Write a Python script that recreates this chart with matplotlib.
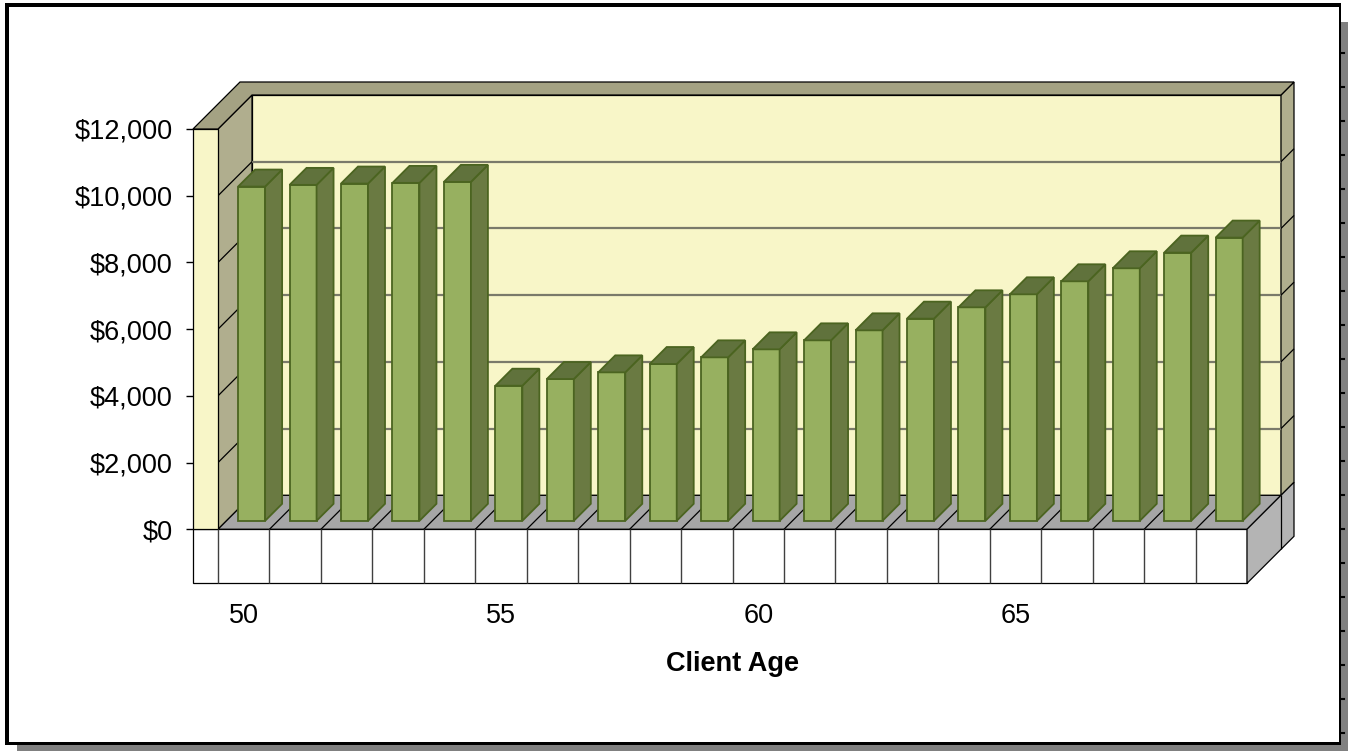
import numpy as np
import matplotlib.pyplot as plt
from matplotlib.patches import Polygon, Rectangle
from matplotlib.ticker import FuncFormatter

plt.rcParams['font.family'] = ['Liberation Sans', 'DejaVu Sans']

# data
ages = list(range(50, 70))
income = [10020, 10070, 10110, 10130, 10160, 4050, 4250, 4450, 4700, 4900,
          5140, 5410, 5710, 6060, 6400, 6790, 7180, 7570, 8040, 8490]
age_ticks = [50, 55, 60, 65]
y_ticks = [0, 2000, 4000, 6000, 8000, 10000, 12000]

W, H = 1348, 751
fig = plt.figure(figsize=(W / 100, H / 100), dpi=100)
fig.patch.set_facecolor('white')

# outer frame with drop shadow (pixel coords)
bg = fig.add_axes([0, 0, 1, 1], zorder=0)
bg.set_xlim(0, W)
bg.set_ylim(H, 0)
bg.axis('off')
for x, y, w, h, c in [(17, 745, W - 17, 6, '#808080'), (1341, 22, 7, H - 22, '#808080'),
                      (5, 3, 1335, 4, 'black'), (5, 3, 4, 742, 'black'),
                      (5, 741.5, 1335, 3.5, 'black'), (1338.5, 3, 2, 742, 'black')]:
    bg.add_patch(Rectangle((x, y), w, h, fc=c, ec='none'))
for y in np.arange(53, 740, 34):
    bg.plot([1341, 1344], [y, y], color='black', lw=1.5)

# front plane of the plot (pixel box)
L, R, B, T = 218, 1247, 529.3, 129
ax = fig.add_axes([L / W, 1 - B / H, (R - L) / W, (B - T) / H], zorder=1)
n = len(ages)
ymax = y_ticks[-1]
ax.set_xlim(0, n)
ax.set_ylim(0, ymax)
ax.patch.set_visible(False)
for s in ax.spines.values():
    s.set_visible(False)

# oblique depth: 1 px of depth moves right 1 px and up 1 px
DX = n / (R - L)
DY = ymax / (B - T)
DEPTH, WALL, SIDE, FLOOR = 34, 13, 25, 54
sx = SIDE * DX
fv = FLOOR * DY


def P(x, v, d):
    return (x + d * DX, v + d * DY)


def face(pts, fc, ec='black', lw=0.9, z=1):
    ax.add_patch(Polygon(pts, closed=True, fc=fc, ec=ec, lw=lw, zorder=z,
                         clip_on=False, joinstyle='miter'))


def seg(a, b, color='black', lw=0.9, z=2):
    ax.plot([a[0], b[0]], [a[1], b[1]], color=color, lw=lw, zorder=z,
            clip_on=False, solid_capstyle='butt')


cream = '#f8f6c8'
tan = '#b0ae8e'
tan_top = '#a4a283'

# back wall + gridlines
face([P(0, 0, DEPTH), P(n, 0, DEPTH), P(n, ymax, DEPTH), P(0, ymax, DEPTH)], cream)
for v in y_ticks[1:-1]:
    seg(P(0, v, DEPTH), P(n, v, DEPTH), color='#7a7a6a', lw=1.6)

# left wall inner side
face([P(0, 0, 0), P(0, 0, DEPTH), P(0, ymax, DEPTH), P(0, ymax, 0)], tan)
# right edge of back wall
face([P(n, 0, DEPTH), P(n, 0, DEPTH + WALL), P(n, ymax, DEPTH + WALL),
      P(n, ymax, DEPTH)], tan)
for v in y_ticks[1:-1]:
    seg(P(0, v, 0), P(0, v, DEPTH))
    seg(P(n, v, DEPTH), P(n, v, DEPTH + WALL))

# floor
face([P(0, 0, 0), P(n, 0, 0), P(n, 0, DEPTH), P(0, 0, DEPTH)], '#a6a6a6', z=2)
for i in range(1, n):
    seg(P(i, 0, 0), P(i, 0, DEPTH), z=3)

# bars
bw, d0, d1 = 0.525, 8.5, 25.5
for i, val in enumerate(income):
    x0 = i + (1 - bw) / 2 - 0.012
    x1 = x0 + bw
    ec = '#4b6420'
    face([P(x0, 0, d0), P(x1, 0, d0), P(x1, val, d0), P(x0, val, d0)],
         '#97b060', ec=ec, lw=1.3, z=4)
    face([P(x1, 0, d0), P(x1, 0, d1), P(x1, val, d1), P(x1, val, d0)],
         '#6a7a42', ec=ec, lw=1.3, z=4)
    face([P(x0, val, d0), P(x1, val, d0), P(x1, val, d1), P(x0, val, d1)],
         '#60723c', ec=ec, lw=1.3, z=4)

# floor front and right faces
face([P(-sx, -fv, 0), P(n, -fv, 0), P(n, 0, 0), P(-sx, 0, 0)], 'white', z=5)
for i in range(n):
    seg(P(i, -fv, 0), P(i, 0, 0), color='#404040', lw=1, z=6)
face([P(n, -fv, 0), P(n, 0, 0), P(n, 0, DEPTH + WALL), P(n, -fv, DEPTH + WALL)],
     '#b4b4b4', z=5)
seg(P(n, -fv, DEPTH), P(n, 0, DEPTH), z=6)

# left wall front edge and top
face([P(-sx, 0, 0), P(0, 0, 0), P(0, ymax, 0), P(-sx, ymax, 0)], cream, z=5)
face([P(-sx, ymax, 0), P(0, ymax, 0), P(0, ymax, DEPTH), P(n, ymax, DEPTH),
      P(n, ymax, DEPTH + WALL), P(-sx, ymax, DEPTH + WALL)], tan_top, z=5)

# axes, ticks, labels
ax.spines['left'].set_position(('outward', SIDE * 0.72))
ax.set_yticks(y_ticks)
ax.yaxis.set_major_formatter(FuncFormatter(lambda v, _: f"${v:,.0f}"))
ax.tick_params(axis='y', length=5, width=1, pad=9.5, labelsize=19.5, colors='black')
ax.set_xticks([a - ages[0] + 0.5 for a in age_ticks])
ax.set_xticklabels([str(a) for a in age_ticks])
ax.tick_params(axis='x', length=0, pad=53, labelsize=19.5)
ax.set_xlabel('Client Age', fontsize=19.5, fontweight='bold', labelpad=16)

fig.savefig('out.png', dpi=100)
